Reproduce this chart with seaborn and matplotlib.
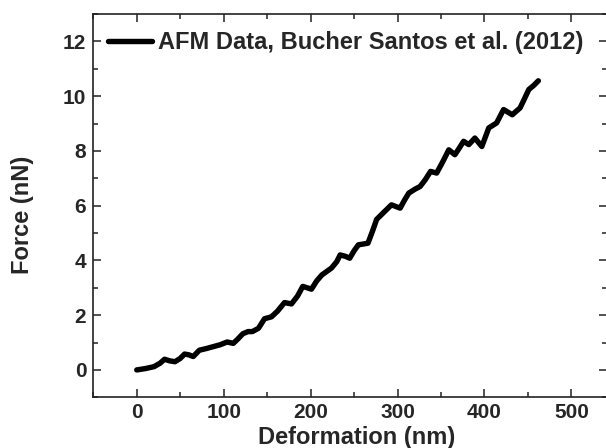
import matplotlib
matplotlib.use("Agg")
import matplotlib.pyplot as plt
import seaborn as sns
import pandas as pd
from matplotlib.ticker import MultipleLocator

# values
deformation = [0, 10, 20, 27, 32, 38, 44, 50, 55, 60,
               65, 72, 80, 88, 96, 104, 111, 116, 122, 128,
               133, 140, 147, 155, 162, 170, 178, 185, 191, 196,
               201, 207, 213, 224, 230, 234, 240, 245, 250, 255,
               261, 266, 271, 276, 284, 293, 303, 308, 313, 320,
               326, 332, 338, 345, 352, 359, 366, 371, 376, 382,
               389, 397, 405, 414, 422, 432, 441, 446, 451, 457,
               462]
force = [0, 0.05, 0.12, 0.25, 0.39, 0.33, 0.30, 0.42, 0.58, 0.55,
         0.49, 0.72, 0.78, 0.85, 0.92, 1.02, 0.97, 1.12, 1.32, 1.40,
         1.40, 1.52, 1.87, 1.94, 2.15, 2.46, 2.41, 2.70, 3.05, 3.00,
         2.95, 3.25, 3.47, 3.72, 3.95, 4.20, 4.15, 4.08, 4.35, 4.57,
         4.60, 4.63, 5.05, 5.50, 5.75, 6.03, 5.91, 6.20, 6.46, 6.60,
         6.70, 6.95, 7.25, 7.19, 7.60, 8.04, 7.86, 8.10, 8.35, 8.23,
         8.47, 8.16, 8.84, 9.02, 9.51, 9.32, 9.57, 9.90, 10.24, 10.40,
         10.56]
series_label = "AFM Data, Bucher Santos et al. (2012)"
x_ticks = [0, 100, 200, 300, 400, 500]
y_ticks = [0, 2, 4, 6, 8, 10, 12]

sns.set_style("ticks")
plt.rcParams['font.family'] = ['Liberation Sans', 'DejaVu Sans']
plt.rcParams['font.weight'] = 'bold'

df = pd.DataFrame({'Deformation': deformation, 'Force': force})

fig = plt.figure(figsize=(6.06, 4.48), dpi=100)
ax = fig.add_axes([93.3 / 606, 1 - 397.3 / 448, 513.7 / 606, 383.3 / 448])

sns.lineplot(data=df, x='Deformation', y='Force', sort=False, estimator=None,
             color='black', linewidth=3.9, label=series_label, ax=ax,
             solid_joinstyle='round', solid_capstyle='round')

ax.set_xlim(-50, 541)
ax.set_ylim(-1, 13)
ax.set_xticks(x_ticks)
ax.set_yticks(y_ticks)
ax.xaxis.set_minor_locator(MultipleLocator(50))
ax.yaxis.set_minor_locator(MultipleLocator(1))
ax.tick_params(which='both', direction='in', top=True, right=True,
               width=1.1, color='#222222', labelsize=15)
ax.tick_params(which='major', length=6)
ax.tick_params(which='minor', length=3.5)
ax.tick_params(axis='x', pad=4)
ax.tick_params(axis='y', pad=5)
for lab in ax.get_xticklabels() + ax.get_yticklabels():
    lab.set_fontweight('bold')
for sp in ax.spines.values():
    sp.set_linewidth(1.2)
    sp.set_color('#222222')

ax.set_xlabel('Deformation (nm)', fontsize=17, fontweight='bold')
ax.set_ylabel('Force (nN)', fontsize=17, fontweight='bold')
ax.xaxis.set_label_coords(0.512, -0.106)
ax.yaxis.set_label_coords(-0.137, 0.476)
ax.xaxis.label.set_va('center')
ax.yaxis.label.set_va('center')

leg = ax.legend(loc='upper left', bbox_to_anchor=(0.029, 0.956), frameon=False,
                borderpad=0, borderaxespad=0, handlelength=1.86, handletextpad=0.25,
                prop={'size': 17, 'weight': 'bold'})

fig.savefig('out.png', dpi=100)
